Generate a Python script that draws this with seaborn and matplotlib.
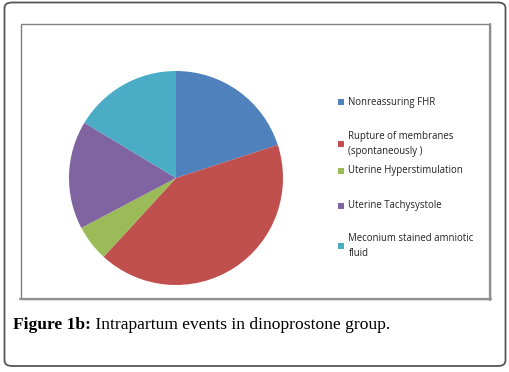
import numpy as np
import pandas as pd
import seaborn as sns
import matplotlib.pyplot as plt
from matplotlib.patches import Rectangle, FancyBboxPatch
from matplotlib.lines import Line2D

# data
events = ["Nonreassuring FHR", "Rupture of membranes\n(spontaneously )",
          "Uterine Hyperstimulation", "Uterine Tachysystole",
          "Meconium stained amniotic\nfluid"]
counts = [11, 23, 3, 9, 9]
colors = ["#4F81BD", "#C0504D", "#9BBB59", "#8064A2", "#4BACC6"]
caption_bold = "Figure 1b:"
caption_rest = " Intrapartum events in dinoprostone group."

sns.set_theme(style="white")
W, H = 510, 372
fig = plt.figure(figsize=(W / 100, H / 100), dpi=100)

def px(x, y):
    # pixel coords (top-left origin) -> figure fraction
    return x / W, 1 - y / H

# outer rounded frame
fig.patches.append(FancyBboxPatch((4.5 / W, 1 - 366 / H), 501 / W, 363.5 / H,
                                  boxstyle="round,pad=0,rounding_size=0.015",
                                  transform=fig.transFigure, fill=False,
                                  edgecolor="#555555", linewidth=1.3, zorder=-2))
# inner chart box, heavier on right and bottom
fig.patches.append(Rectangle((20.5 / W, 1 - 298.5 / H), 469.5 / W, 275 / H,
                             transform=fig.transFigure, facecolor="white",
                             edgecolor="#808080", linewidth=1.0, zorder=-1))
for xs, ys in [([490, 490], [23.5, 299.5]), ([20, 491], [299, 299])]:
    fig.lines.append(Line2D([x / W for x in xs], [1 - y / H for y in ys],
                            transform=fig.transFigure, color="#8f8f8f",
                            linewidth=1.6, zorder=0))

# pie
cx, cy, r = 176, 178, 107
ax = fig.add_axes([(cx - r) / W, (H - cy - r) / H, 2 * r / W, 2 * r / H])
ax.set_zorder(5)
ax.patch.set_alpha(0)
df = pd.DataFrame({"event": events, "n": counts})
pal = sns.color_palette(colors)
ax.pie(df["n"], colors=pal, startangle=90, counterclock=False, radius=1,
       wedgeprops=dict(linewidth=0))
ax.set_xlim(-1, 1)
ax.set_ylim(-1, 1)
ax.set_aspect("equal")
ax.axis("off")

# legend, drawn by hand to keep Excel's spacing
legend_y = [102, 144, 171, 206, 246]
for lab, col, y in zip(events, pal, legend_y):
    x0, y0 = px(338.5, y + 3)
    fig.patches.append(Rectangle((x0, y0), 6 / W, 6 / H,
                                 transform=fig.transFigure, color=col, linewidth=0))
    tx, ty = px(348.5, y)
    fig.text(tx, ty, lab, fontsize=6.9, family="Open Sans", color="#222222",
             va="center", ha="left", linespacing=1.4)

# caption
cx0, cy0 = px(13, 325)
t1 = fig.text(cx0, cy0, caption_bold, fontsize=12.6, family="Liberation Serif",
              fontweight="bold", va="center", ha="left", color="black")
fig.canvas.draw()
bb = t1.get_window_extent()
fig.text(bb.x1 / W, cy0, caption_rest, fontsize=12.6, family="Liberation Serif",
         va="center", ha="left", color="black")

fig.savefig("out.png", dpi=100)
